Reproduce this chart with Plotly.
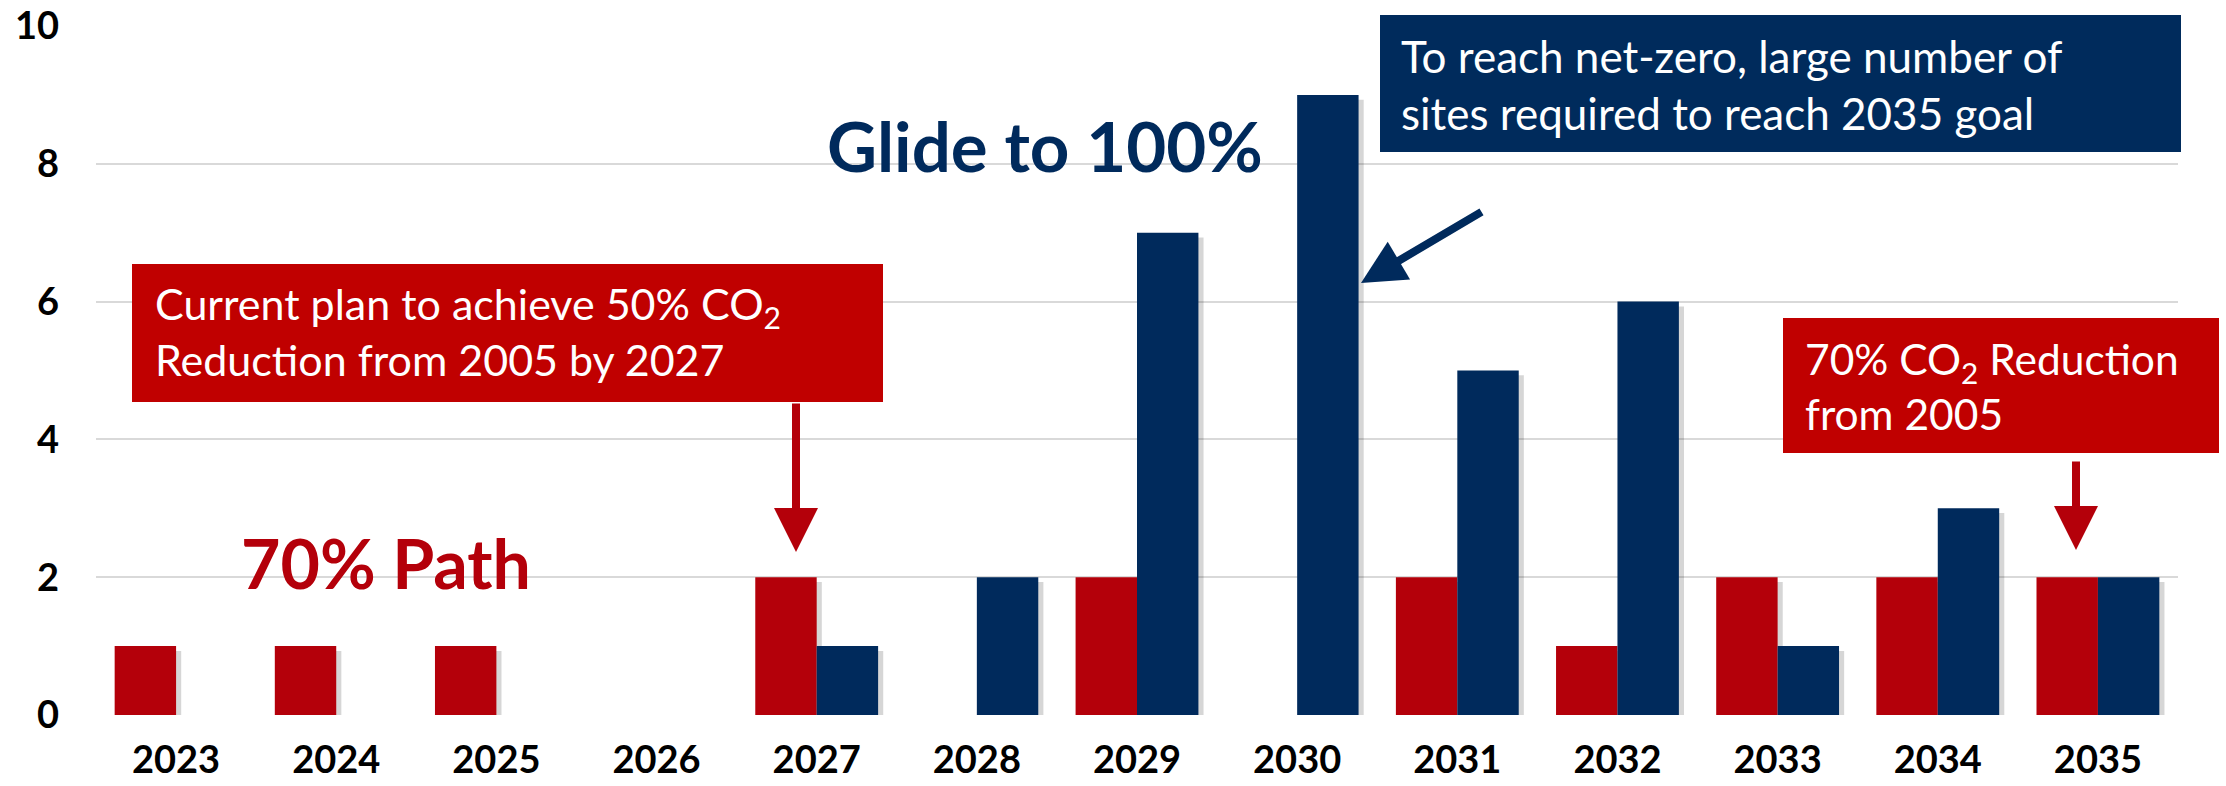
import plotly.graph_objects as go

# ---- data ----
years = ["2023", "2024", "2025", "2026", "2027", "2028", "2029",
         "2030", "2031", "2032", "2033", "2034", "2035"]
path70 = [1, 1, 1, 0, 2, 0, 2, 0, 2, 1, 2, 2, 2]
glide100 = [0, 0, 0, 0, 1, 2, 7, 9, 5, 6, 1, 3, 2]
yticks = [0, 2, 4, 6, 8, 10]

RED = "#B4000A"
NAVY = "#002A5C"
BOX_RED = "#C00000"
BOX_NAVY = "#002B5C"
FONT = "Lato"

W, H = 2226, 786
L, R, T, B = 96, 2178, 26, 715


def px(X):
    return (X - L) / (R - L)


def py(Y):
    return (B - Y) / (B - T)


BW = 0.3835
fig = go.Figure()

# soft shadows
for vals, off in [(path70, -BW), (glide100, 0.0)]:
    fig.add_trace(go.Bar(
        x=years, y=[v if v > 0 else None for v in vals], base=-0.07,
        offset=off + 0.032, width=BW,
        marker=dict(color="rgba(0,0,0,0.16)", line=dict(width=0)),
        hoverinfo="skip", showlegend=False))

fig.add_trace(go.Bar(x=years, y=path70, offset=-BW, width=BW, name="70% Path",
                     marker=dict(color=RED, line=dict(width=0)), showlegend=False))
fig.add_trace(go.Bar(x=years, y=glide100, offset=0.0, width=BW, name="Glide to 100%",
                     marker=dict(color=NAVY, line=dict(width=0)), showlegend=False))

shapes = [
    dict(type="rect", xref="paper", yref="paper", x0=px(132), x1=px(883), y0=py(402), y1=py(264),
         fillcolor=BOX_RED, line=dict(width=0), layer="above"),
    dict(type="rect", xref="paper", yref="paper", x0=px(1380), x1=px(2181), y0=py(152), y1=py(15),
         fillcolor=BOX_NAVY, line=dict(width=0), layer="above"),
    dict(type="rect", xref="paper", yref="paper", x0=px(1783), x1=px(2219), y0=py(453), y1=py(318),
         fillcolor=BOX_RED, line=dict(width=0), layer="above"),
]

annotations = [
    dict(xref="paper", yref="paper", x=px(153), y=py(331), xanchor="left", yanchor="middle",
         align="left", showarrow=False,
         text="Current plan to achieve 50% CO<sub>2</sub><br>Reduction from 2005 by 2027",
         font=dict(family=FONT, size=43, color="white")),
    dict(xref="paper", yref="paper", x=px(1399), y=py(84), xanchor="left", yanchor="middle",
         align="left", showarrow=False,
         text="To reach net-zero, large number of<br>sites required to reach 2035 goal",
         font=dict(family=FONT, size=44, color="white")),
    dict(xref="paper", yref="paper", x=px(1803), y=py(386), xanchor="left", yanchor="middle",
         align="left", showarrow=False,
         text="70% CO<sub>2</sub> Reduction<br>from 2005",
         font=dict(family=FONT, size=42.5, color="white")),
    dict(xref="paper", yref="paper", x=px(386), y=py(562), xanchor="center", yanchor="middle",
         showarrow=False, text="<b>70% Path</b>",
         font=dict(family=FONT, size=68, color=RED)),
    dict(xref="paper", yref="paper", x=px(1045), y=py(145), xanchor="center", yanchor="middle",
         showarrow=False, text="<b>Glide to 100%</b>",
         font=dict(family=FONT, size=69, color=NAVY)),
    # arrows
    dict(xref="paper", yref="paper", x=px(796), y=py(552), ax=0, ay=-150, text="",
         showarrow=True, arrowhead=2, arrowsize=1.1, arrowwidth=8, arrowcolor=RED, standoff=0),
    dict(xref="paper", yref="paper", x=px(2076), y=py(550), ax=0, ay=-90, text="",
         showarrow=True, arrowhead=2, arrowsize=1.1, arrowwidth=8, arrowcolor=RED, standoff=0),
    dict(xref="paper", yref="paper", x=px(1361), y=py(283), ax=122, ay=-72, text="",
         showarrow=True, arrowhead=2, arrowsize=1.1, arrowwidth=8, arrowcolor=NAVY, standoff=0),
]

fig.update_layout(
    width=W, height=H,
    margin=dict(l=L, r=W - R, t=T, b=H - B, pad=0, autoexpand=False),
    paper_bgcolor="white", plot_bgcolor="white",
    barmode="overlay",
    showlegend=False,
    shapes=shapes,
    annotations=annotations,
    xaxis=dict(type="category", categoryorder="array", categoryarray=years,
               range=[-0.5, len(years) - 0.5], automargin=False,
               showgrid=False, showline=False, zeroline=False, ticks="",
               tickfont=dict(family=FONT, size=38, color="black", weight="bold"),
               ticklabelstandoff=19),
    yaxis=dict(range=[0, 10], tickvals=yticks, showgrid=True, gridcolor="#D9D9D9",
               gridwidth=2, zeroline=False, showline=False, ticks="", automargin=False,
               tickfont=dict(family=FONT, size=38, color="black", weight="bold"),
               ticklabelstandoff=36),
)

fig.write_html("out.html")
